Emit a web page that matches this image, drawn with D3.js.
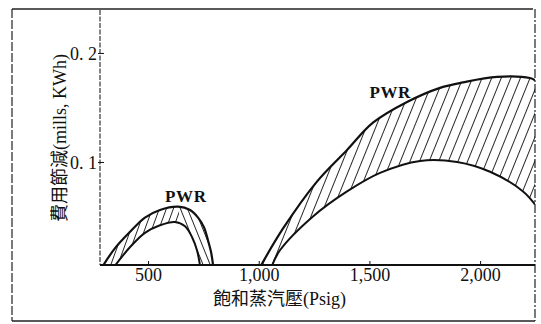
<!DOCTYPE html>
<html><head><meta charset="utf-8">
<script src="https://cdn.jsdelivr.net/npm/d3@7"></script>
<style>
html,body{margin:0;padding:0;background:#fff;}
svg{display:block;}
text{font-family:"Liberation Serif","Noto Sans CJK TC",serif;fill:#111;}
</style></head>
<body>
<script>
// ---- data ----
const xTicks = [500, 1000, 1500, 2000];
const xTickLabels = ["500", "1,000", "1,500", "2,000"];
const yTicks = [0.1, 0.2];
const yTickLabels = ["0. 1", "0. 2"];
const xTitle = "飽和蒸汽壓(Psig)";
const yTitle = "費用節減(mills, KWh)";
const seriesName = "PWR";

// low-pressure PWR band
const lowOuterP = [297, 351, 419, 486, 554, 636, 690, 726, 753, 771, 785, 794];
const lowOuterV = [0.005, 0.021, 0.036, 0.049, 0.056, 0.059, 0.056, 0.049, 0.040, 0.028, 0.017, 0.005];
const lowInnerP = [351, 419, 486, 554, 622, 667, 699, 721, 735];
const lowInnerV = [0.005, 0.022, 0.035, 0.042, 0.045, 0.041, 0.031, 0.019, 0.005];
// high-pressure PWR band
const highOuterP = [1010, 1110, 1263, 1399, 1516, 1670, 1819, 1923, 2076, 2225, 2248];
const highOuterV = [0.005, 0.039, 0.082, 0.111, 0.136, 0.155, 0.168, 0.173, 0.178, 0.177, 0.175];
const highInnerP = [1060, 1096, 1245, 1399, 1548, 1729, 1896, 2045, 2194, 2248];
const highInnerV = [0.005, 0.019, 0.050, 0.073, 0.090, 0.101, 0.100, 0.091, 0.073, 0.061];

const W = 541, H = 324;
const svg = d3.select("body").append("svg").attr("width", W).attr("height", H);

const plot = {left: 100, right: 535, top: 10, bottom: 265};
const x = d3.scaleLinear().domain([283, 2248]).range([plot.left, plot.right]);
const y = d3.scaleLinear().domain([0.0055, 0.2394]).range([plot.bottom, plot.top]);

const defs = svg.append("defs");
defs.append("clipPath").attr("id", "clip").append("rect")
  .attr("x", plot.left).attr("y", plot.top)
  .attr("width", plot.right - plot.left).attr("height", plot.bottom - plot.top + 1);

function hatch(id, spacing, angle) {
  const p = defs.append("pattern").attr("id", id)
    .attr("patternUnits", "userSpaceOnUse")
    .attr("width", spacing).attr("height", 20)
    .attr("patternTransform", `rotate(${angle})`);
  p.append("line").attr("x1", spacing / 2).attr("x2", spacing / 2)
    .attr("y1", 0).attr("y2", 20).attr("stroke", "#111").attr("stroke-width", 0.9);
}
hatch("hatchR", 8.9, 22);
hatch("hatchL", 6.6, 20);
hatch("hatchBack", 6.6, -22);

// frame
const frame = svg.append("g").attr("stroke", "#222").attr("fill", "none");
frame.append("line").attr("x1", 12).attr("x2", 533).attr("y1", 9).attr("y2", 9).attr("stroke-width", 1.6);
frame.append("line").attr("x1", 12).attr("x2", 535).attr("y1", 321).attr("y2", 321).attr("stroke-width", 1.6);
frame.append("line").attr("x1", 12).attr("x2", 12).attr("y1", 9).attr("y2", 321).attr("stroke-width", 1.2).attr("stroke-dasharray", "9,2");
frame.append("line").attr("x1", 535).attr("x2", 535).attr("y1", 9).attr("y2", 321).attr("stroke-width", 1.2).attr("stroke-dasharray", "9,2,2,2");

const curve = d3.curveCatmullRom.alpha(0.5);
const line = d3.line().x(d => x(d[0])).y(d => y(d[1])).curve(curve);
const area = d3.area().x(d => x(d[0])).y1(d => y(d[1])).y0(plot.bottom + 2).curve(curve);
const zip = (a, b) => a.map((v, i) => [v, b[i]]);

let bandCount = 0;
function band(outerP, outerV, innerP, innerV, fill, fill2, split) {
  const id = "band" + (bandCount++);
  const outer = zip(outerP, outerV), inner = zip(innerP, innerV);
  const mask = defs.append("mask").attr("id", id).attr("maskUnits", "userSpaceOnUse")
    .attr("x", 0).attr("y", 0).attr("width", W).attr("height", H);
  mask.append("path").attr("d", area(outer)).attr("fill", "#fff");
  mask.append("path").attr("d", area(inner)).attr("fill", "#000");
  const g = svg.append("g").attr("clip-path", "url(#clip)");
  const hg = g.append("g").attr("mask", `url(#${id})`);
  if (split == null) {
    hg.append("rect").attr("x", 0).attr("y", 0).attr("width", W).attr("height", H).attr("fill", `url(#${fill})`);
  } else {
    hg.append("rect").attr("x", 0).attr("y", 0).attr("width", x(split)).attr("height", H).attr("fill", `url(#${fill})`);
    hg.append("rect").attr("x", x(split)).attr("y", 0).attr("width", W - x(split)).attr("height", H).attr("fill", `url(#${fill2})`);
  }
  g.append("path").attr("d", line(outer)).attr("fill", "none").attr("stroke", "#111").attr("stroke-width", 2.2);
  g.append("path").attr("d", line(inner)).attr("fill", "none").attr("stroke", "#111").attr("stroke-width", 2);
}
band(lowOuterP, lowOuterV, lowInnerP, lowInnerV, "hatchL", "hatchBack", 640);
band(highOuterP, highOuterV, highInnerP, highInnerV, "hatchR");

// axes
svg.append("line").attr("x1", plot.left).attr("x2", plot.left).attr("y1", plot.top).attr("y2", plot.bottom)
  .attr("stroke", "#222").attr("stroke-width", 1.1).attr("stroke-dasharray", "5,1.5");
svg.append("line").attr("x1", plot.left).attr("x2", plot.right).attr("y1", plot.bottom).attr("y2", plot.bottom)
  .attr("stroke", "#111").attr("stroke-width", 1.8);

const xa = svg.append("g").attr("transform", `translate(0,${plot.bottom})`)
  .call(d3.axisBottom(x).tickValues(xTicks).tickFormat((d, i) => xTickLabels[i]).tickSizeInner(-4).tickSizeOuter(0).tickPadding(3));
xa.select(".domain").remove();
xa.selectAll("text").attr("font-size", 18).attr("font-family", "Liberation Serif").attr("fill", "#111");
xa.selectAll("line").attr("stroke", "#111");

const ya = svg.append("g").attr("transform", `translate(${plot.left},0)`)
  .call(d3.axisLeft(y).tickValues(yTicks).tickFormat((d, i) => yTickLabels[i]).tickSizeInner(-4).tickSizeOuter(0).tickPadding(3));
ya.select(".domain").remove();
ya.selectAll("text").attr("font-size", 18).attr("font-family", "Liberation Serif").attr("fill", "#111").attr("dy", "0.36em");
ya.selectAll("line").attr("stroke", "#111").attr("x1", -2);

// series labels
svg.append("text").attr("x", x(577)).attr("y", 202).attr("font-size", 17).attr("font-weight", "bold")
  .attr("letter-spacing", 0.6).text(seriesName);
svg.append("text").attr("x", x(1500)).attr("y", 98).attr("font-size", 17).attr("font-weight", "bold")
  .attr("letter-spacing", 0.6).text(seriesName);

// titles
svg.append("text").attr("x", 213).attr("y", 305).attr("font-size", 18).text(xTitle);
svg.append("text").attr("transform", "translate(66,138) rotate(-90)").attr("text-anchor", "middle")
  .attr("font-size", 18).text(yTitle);
</script>
</body></html>
